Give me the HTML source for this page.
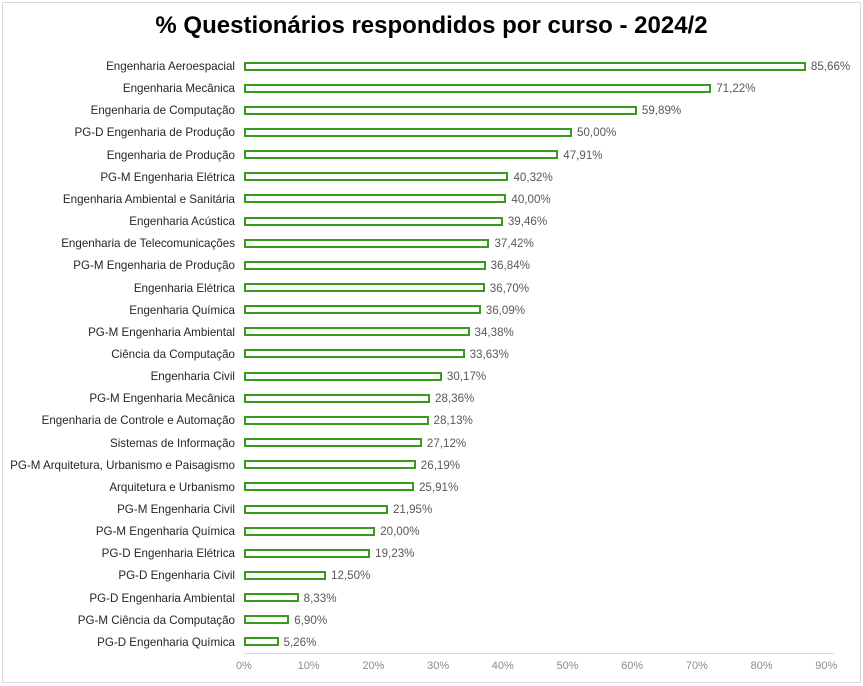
<!DOCTYPE html>
<html><head><meta charset="utf-8"><style>
body{margin:0;width:863px;height:686px;background:#fff;font-family:"Liberation Sans",sans-serif;position:relative;overflow:hidden}
.frame{position:absolute;left:2px;top:2px;width:857px;height:679px;border:1px solid #d9d9d9}
.t{position:absolute;left:0;width:863px;top:12px;text-align:center;font-weight:bold;font-size:24px;color:#000}
.l{position:absolute;right:628px;font-size:11.6px;color:#262626;white-space:nowrap;line-height:13px}
.b{position:absolute;left:244px;height:5px;border:2px solid #3a9a1f;background:#fff;box-sizing:content-box}
.v{position:absolute;font-size:11.6px;color:#595959;line-height:13px}
.x{position:absolute;top:660px;font-size:11px;color:#8c8c8c;width:40px;text-align:center}
.ax{position:absolute;left:244px;top:653px;width:590px;height:1px;background:#d9d9d9}
</style></head><body>
<div class="frame"></div>
<div class="t">% Questionários respondidos por curso - 2024/2</div>
<div id="c"></div>
<div class="ax"></div>
<script>
var d=[["Engenharia Aeroespacial",85.66],["Engenharia Mecânica",71.22],["Engenharia de Computação",59.89],["PG-D Engenharia de Produção",50.00],["Engenharia de Produção",47.91],["PG-M Engenharia Elétrica",40.32],["Engenharia Ambiental e Sanitária",40.00],["Engenharia Acústica",39.46],["Engenharia de Telecomunicações",37.42],["PG-M Engenharia de Produção",36.84],["Engenharia Elétrica",36.70],["Engenharia Química",36.09],["PG-M Engenharia Ambiental",34.38],["Ciência da Computação",33.63],["Engenharia Civil",30.17],["PG-M Engenharia Mecânica",28.36],["Engenharia de Controle e Automação",28.13],["Sistemas de Informação",27.12],["PG-M Arquitetura, Urbanismo e Paisagismo",26.19],["Arquitetura e Urbanismo",25.91],["PG-M Engenharia Civil",21.95],["PG-M Engenharia Química",20.00],["PG-D Engenharia Elétrica",19.23],["PG-D Engenharia Civil",12.50],["PG-D Engenharia Ambiental",8.33],["PG-M Ciência da Computação",6.90],["PG-D Engenharia Química",5.26]];
var h="",s=6.56;
d.forEach(function(r,i){var y=66+i*22.15,w=r[1]*s;
h+='<div class="l" style="top:'+(y-6)+'px">'+r[0]+'</div>';
h+='<div class="b" style="top:'+(y-4.5)+'px;width:'+(w-4)+'px"></div>';
h+='<div class="v" style="top:'+(y-6)+'px;left:'+(244+w+5)+'px">'+r[1].toFixed(2).replace('.',',')+'%</div>';});
for(var k=0;k<=9;k++){h+='<div class="x" style="left:'+(244+k*64.7-20)+'px">'+(k*10)+'%</div>';}
document.getElementById('c').innerHTML=h;
</script>
</body></html>
